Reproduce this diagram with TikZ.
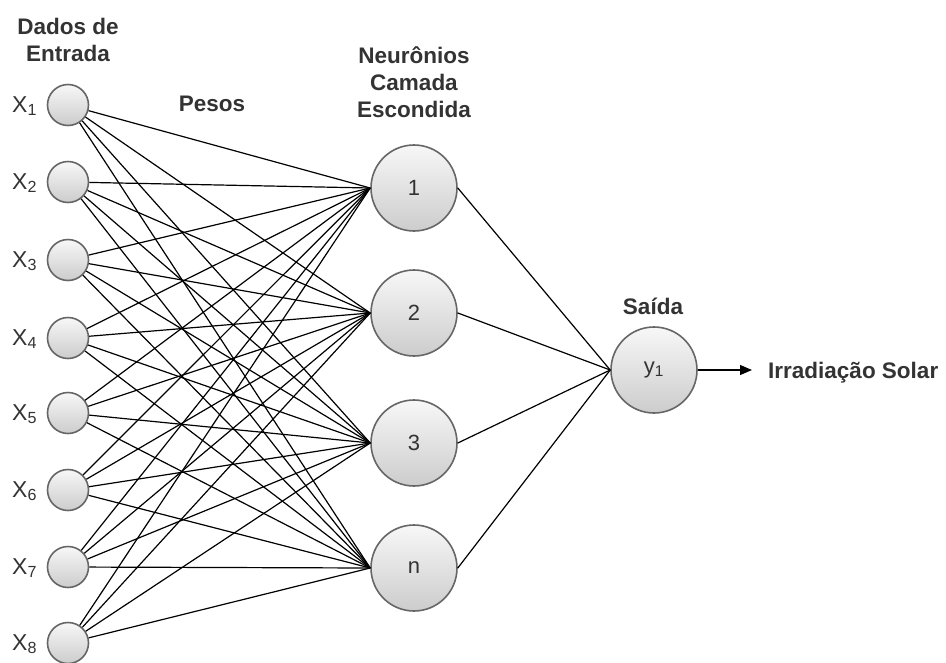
\documentclass[tikz,border=0pt]{standalone}
\usepackage{fontspec}
\setmainfont{Liberation Sans}
\usetikzlibrary{arrows.meta}
\definecolor{txt}{HTML}{333333}
\begin{document}
\begin{tikzpicture}[x=1pt,y=-1pt,
  neuron/.style={circle,draw=black!60,line width=1.6pt,top color=gray!6,bottom color=gray!40,inner sep=0pt,text=txt,font=\fontsize{22}{26}\selectfont},
  innode/.style={neuron,minimum size=41pt},
  hidnode/.style={neuron,minimum size=86pt},
  head/.style={align=center,text=txt,inner sep=0pt,font=\bfseries\fontsize{22.5}{27}\selectfont},
  xlab/.style={text=txt,font=\fontsize{23}{26}\selectfont,inner sep=0pt,anchor=base west},
  wire/.style={line width=1.2pt,black}
]
\useasboundingbox (0,0) rectangle (946,662);
% headings
\node[head] (hin) at (68,40) {Dados de\\Entrada};
\node[head] (hw) at (212,104) {Pesos};
\node[head] (hhid) at (414,82) {Neurônios\\Camada\\Escondida};
\node[head] (hout) at (653,306) {Saída};
% input nodes
\foreach \i/\y in {1/105,2/182,3/260,4/338,5/413,6/490,7/567,8/643}{
  \node[innode] (x\i) at (68,\y) {};
  \node[xlab] (lx\i) at (12,\y+7) {X\textsubscript{\i}};
}
% hidden nodes
\node[hidnode] (h1) at (414,188) {1};
\node[hidnode] (h2) at (414,313) {2};
\node[hidnode] (h3) at (414,443) {3};
\node[hidnode] (h4) at (414,568) {n};
% output
\node[hidnode] (y) at (654,370) {y\textsubscript{1}};
\coordinate (yend) at (752,370);
\node[head,anchor=base west] (lab) at (768,378) {Irradiação Solar};
% connections
\foreach \i in {1,...,8}{
  \foreach \j in {1,...,4}{
    \draw[wire] (x\i) -- (h\j.west);
  }
}
\foreach \j in {1,...,4}{
  \draw[wire] (h\j.east) -- (y.west);
}
\draw[wire,-{Triangle[length=12pt,width=10pt]}] (y.east) -- (yend);
\end{tikzpicture}
\end{document}
